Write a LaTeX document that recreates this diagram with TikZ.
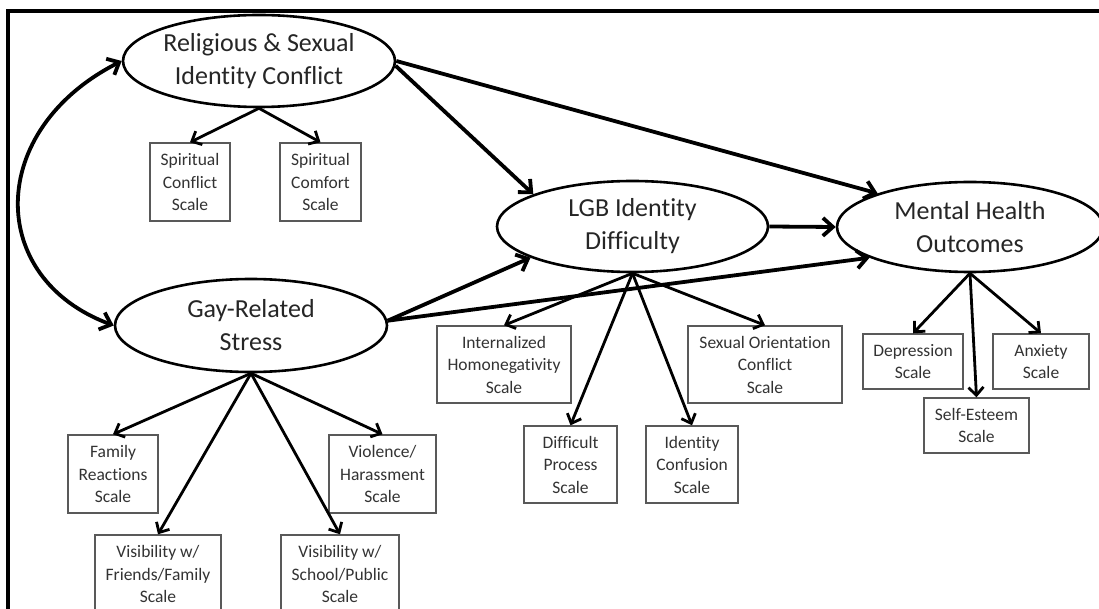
\documentclass[tikz,border=0pt]{standalone}
\usepackage{fontspec}
\setmainfont{Carlito}[RawFeature={-liga}]
\usetikzlibrary{shapes.geometric,arrows.meta}
\begin{document}
\begin{tikzpicture}[x=1pt,y=-1pt,
  latent/.style={ellipse, draw=black, line width=2.6pt, inner sep=0pt, align=center,
    font=\fontsize{26}{33}\selectfont, text=black!85},
  indic/.style={rectangle, draw=black!65, line width=1.4pt, inner sep=0pt, align=center,
    font=\fontsize{17.5}{22.5}\selectfont, text=black!80, minimum height=78pt},
  structarrow/.style={line width=3.8pt, -{Straight Barb[length=10pt,width=18pt]}},
  loadarrow/.style={line width=2.8pt, -{Straight Barb[length=8pt,width=15pt]}},
  bothends/.style={line width=3.8pt, {Straight Barb[length=10pt,width=18pt]}-{Straight Barb[length=10pt,width=18pt]}}
]
\useasboundingbox (0,0) rectangle (1099,609);
\clip (0,0) rectangle (1099,609);
\fill[white] (0,0) rectangle (1099,609);
\draw[line width=4pt, line join=miter] (8,615) -- (8,11) -- (1105,11);

% latent variables
\node[latent, minimum width=272pt, minimum height=92pt] (rsic) at (259,61) {Religious \& Sexual\\Identity Conflict};
\node[latent, minimum width=272pt, minimum height=93pt] (grs) at (251,325.5) {Gay-Related\\Stress};
\node[latent, minimum width=271pt, minimum height=91pt] (lgb) at (632.5,226.5) {LGB Identity\\Difficulty};
\node[latent, minimum width=266pt, minimum height=90pt] (mho) at (970,227) {Mental Health\\Outcomes};

% indicators
\node[indic, minimum width=80pt] (scl) at (190,182) {Spiritual\\Conflict\\Scale};
\node[indic, minimum width=81pt] (scf) at (320.5,182) {Spiritual\\Comfort\\Scale};
\node[indic, minimum width=90pt] (fam) at (113,474) {Family\\Reactions\\Scale};
\node[indic, minimum width=107pt] (vio) at (382.5,474) {Violence/\\Harassment\\Scale};
\node[indic, minimum width=126pt] (vff) at (158,574) {Visibility w/\\Friends/Family\\Scale};
\node[indic, minimum width=118pt] (vsp) at (340,574) {Visibility w/\\School/Public\\Scale};
\node[indic, minimum width=134pt, minimum height=77pt] (ihs) at (504,364.5) {Internalized\\Homonegativity\\Scale};
\node[indic, minimum width=154pt, minimum height=77pt] (soc) at (765,364.5) {Sexual Orientation\\Conflict\\Scale};
\node[indic, minimum width=93pt, minimum height=77pt] (dps) at (570.5,464.5) {Difficult\\Process\\Scale};
\node[indic, minimum width=92pt, minimum height=77pt] (ics) at (692,464.5) {Identity\\Confusion\\Scale};
\node[indic, minimum width=100pt, minimum height=55pt] (dep) at (913,361.5) {Depression\\Scale};
\node[indic, minimum width=96pt, minimum height=55pt] (anx) at (1041,361.5) {Anxiety\\Scale};
\node[indic, minimum width=105pt, minimum height=55pt] (ses) at (976.5,425.5) {Self-Esteem\\Scale};

% loadings
\draw[loadarrow] (rsic.south) -- (scl.north);
\draw[loadarrow] (rsic.south) -- (scf.north);
\draw[loadarrow] (grs.south) -- (fam.north);
\draw[loadarrow] (grs.south) -- (vio.north);
\draw[loadarrow] (grs.south) -- (vff.north);
\draw[loadarrow] (grs.south) -- (vsp.north);
\draw[loadarrow] (lgb.south) -- (ihs.north);
\draw[loadarrow] (lgb.south) -- (soc.north);
\draw[loadarrow] (lgb.south) -- (dps.north);
\draw[loadarrow] (lgb.south) -- (ics.north);
\draw[loadarrow] (mho.south) -- (dep.north);
\draw[loadarrow] (mho.south) -- (anx.north);
\draw[loadarrow] (mho.south) -- (ses.north);

% structural paths
\draw[structarrow] (rsic.-2) -- (lgb.162);
\draw[structarrow] (rsic.0) -- (mho.160);
\draw[structarrow] (lgb.east) -- (mho.west);
\draw[structarrow] (grs.2) -- (lgb.197);
\draw[structarrow] (grs.2) -- (mho.197);
\draw[bothends] (grs.west) .. controls (-14,278) and (-14,130) .. (rsic.west);
\end{tikzpicture}
\end{document}
